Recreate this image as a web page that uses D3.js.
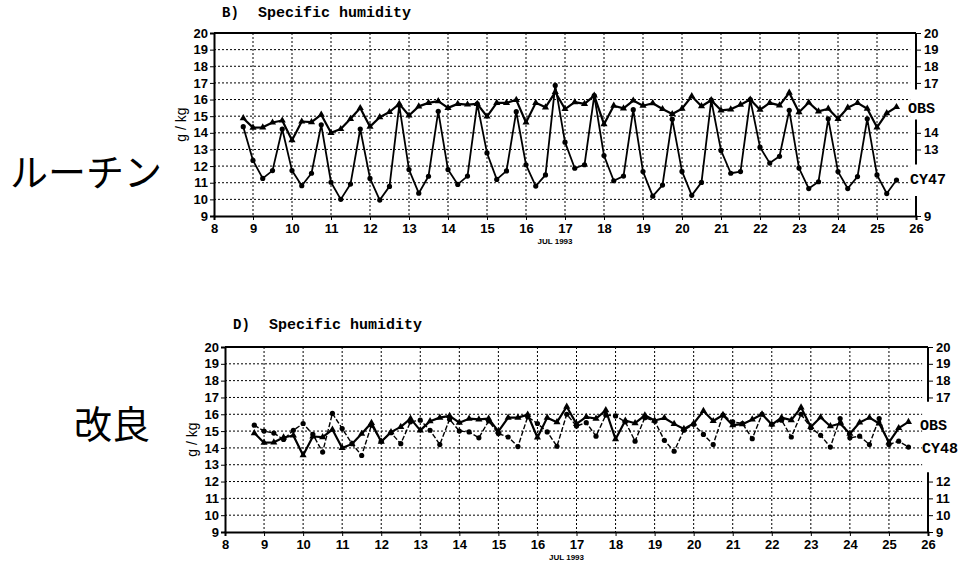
<!DOCTYPE html>
<html lang="ja">
<head>
  <meta charset="UTF-8">
  <title>Specific humidity</title>
  <style>
    body { margin: 0; background: #fff; }
    svg { display: block; }
    .tick text { font-family: "Liberation Sans", Arial, sans-serif; font-weight: bold; font-size: 13px; fill: #000; }
    .mono { font-family: "Liberation Mono", "DejaVu Sans Mono", monospace; font-weight: bold; }
    .jp { font-family: "Noto Sans CJK JP", sans-serif; font-size: 38px; }
    .grid { stroke: #000; stroke-width: 1; stroke-dasharray: 2,2; }
  </style>
</head>
<body>
<div id="chart"></div>
<script src="https://d3js.org/d3.v7.min.js"></script>
<script>
  // 6-hourly times, JUL 1993 (day of month)
  var times = [8.75, 9, 9.25, 9.5, 9.75, 10, 10.25, 10.5, 10.75, 11, 11.25, 11.5, 11.75,
    12, 12.25, 12.5, 12.75, 13, 13.25, 13.5, 13.75, 14, 14.25, 14.5, 14.75,
    15, 15.25, 15.5, 15.75, 16, 16.25, 16.5, 16.75, 17, 17.25, 17.5, 17.75,
    18, 18.25, 18.5, 18.75, 19, 19.25, 19.5, 19.75, 20, 20.25, 20.5, 20.75,
    21, 21.25, 21.5, 21.75, 22, 22.25, 22.5, 22.75, 23, 23.25, 23.5, 23.75,
    24, 24.25, 24.5, 24.75, 25, 25.25, 25.5];

  // observed specific humidity (g/kg)
  var obs = [14.88, 14.31, 14.33, 14.62, 14.74, 13.56, 14.68, 14.64, 15.09, 14.0, 14.23, 14.84, 15.49,
    14.37, 14.94, 15.25, 15.74, 15.04, 15.59, 15.8, 15.9, 15.5, 15.74, 15.7, 15.74,
    14.98, 15.8, 15.8, 15.98, 14.62, 15.8, 15.53, 16.45, 15.43, 15.84, 15.74, 16.24,
    14.52, 15.63, 15.47, 15.94, 15.63, 15.78, 15.43, 15.13, 15.45, 16.2, 15.6, 15.96,
    15.35, 15.41, 15.69, 16.0, 15.39, 15.8, 15.65, 16.41, 15.24, 15.82, 15.29, 15.45,
    14.84, 15.51, 15.8, 15.45, 14.33, 15.18, 15.55];

  // routine model (CY47)
  var cy47 = [14.37, 12.34, 11.26, 11.73, 14.23, 11.73, 10.82, 11.57, 14.48, 11.03, 10.0, 10.92, 14.23,
    11.26, 9.96, 10.78, 15.65, 11.79, 10.37, 11.39, 15.29, 11.79, 10.9, 11.4, 15.74,
    12.79, 11.2, 11.71, 15.27, 12.08, 10.8, 11.47, 16.85, 13.44, 11.87, 12.08, 16.24,
    12.63, 11.12, 11.4, 15.39, 11.67, 10.19, 10.86, 14.82, 11.68, 10.24, 11.02, 15.96,
    12.94, 11.57, 11.67, 16.0, 13.14, 12.18, 12.59, 15.35, 11.88, 10.65, 11.06, 14.84,
    11.67, 10.65, 11.37, 14.84, 11.47, 10.35, 11.16];

  // improved model (CY48)
  var cy48 = [15.35, 15.0, 14.88, 14.5, 15.05, 15.45, 14.8, 13.75, 16.05, 15.15, 14.25, 13.55, 15.35,
    14.4, 14.9, 14.25, 15.55, 15.65, 15.05, 14.2, 15.7, 15.0, 14.95, 14.6, 15.6,
    14.85, 14.65, 14.08, 15.85, 15.45, 14.95, 14.1, 16.0, 15.3, 15.5, 14.7, 15.95,
    15.9, 15.55, 14.4, 15.8, 15.6, 14.45, 13.8, 15.05, 15.4, 14.8, 14.2, 15.95,
    15.55, 15.45, 14.55, 16.0, 15.4, 15.65, 14.65, 16.0, 15.2, 14.75, 14.05, 15.75,
    14.6, 14.7, 14.2, 15.75, 14.2, 14.4, 14.05];

  var xTicks = [8, 9, 10, 11, 12, 13, 14, 15, 16, 17, 18, 19, 20, 21, 22, 23, 24, 25, 26];
  var yTicks = [9, 10, 11, 12, 13, 14, 15, 16, 17, 18, 19, 20];

  var w = 958, h = 564;

  var svg = d3.select("#chart").append("svg")
    .attr("width", w).attr("height", h);

  var panels = [
    {
      letter: "B)", jp: "ルーチン", model: cy47, modelName: "CY47", dashed: false,
      x0: 214, x1: 916, yTop: 33, yBot: 216,
      titleY: 17, jpY: 186,
      rightTicks: [20, 19, 18, 17, 14, 13, 9],
      rightSegs: [[20, 16.6], [14.8, 12.1], [10.2, 9]],
      obsLab: 15.5, modelLab: 11.2
    },
    {
      letter: "D)", jp: "改良", model: cy48, modelName: "CY48", dashed: true,
      x0: 225, x1: 928, yTop: 347, yBot: 532,
      titleY: 329, jpY: 438,
      rightTicks: [20, 19, 18, 17, 12, 11, 10, 9],
      rightSegs: [[20, 16.75], [12.55, 9]],
      obsLab: 15.35, modelLab: 14.0
    }
  ];

  panels.forEach(function(p) {
    var x = d3.scaleLinear().domain([8, 26]).range([p.x0, p.x1]);
    var y = d3.scaleLinear().domain([9, 20]).range([p.yBot, p.yTop]);
    var g = svg.append("g");

    // title
    g.append("text").attr("class", "mono")
      .attr("x", p.x0 + 8).attr("y", p.titleY)
      .style("font-size", "14px").text(p.letter);
    g.append("text").attr("class", "mono")
      .attr("x", p.x0 + 44).attr("y", p.titleY)
      .style("font-size", "15px").text("Specific humidity");

    // japanese side label
    g.append("text").attr("class", "jp")
      .attr("x", p.letter === "B)" ? 10 : 74).attr("y", p.jpY)
      .text(p.jp);

    // grid
    g.append("g").selectAll("line").data(yTicks.slice(1, -1)).enter().append("line")
      .attr("class", "grid")
      .attr("x1", p.x0).attr("x2", x(25.85))
      .attr("y1", d => y(d)).attr("y2", d => y(d));
    g.append("g").selectAll("line").data(xTicks.slice(1, -1)).enter().append("line")
      .attr("class", "grid")
      .attr("x1", d => x(d)).attr("x2", d => x(d))
      .attr("y1", y(20)).attr("y2", y(9));

    // top frame line
    g.append("line").attr("x1", p.x0).attr("x2", p.x1)
      .attr("y1", y(20)).attr("y2", y(20))
      .attr("stroke", "#000").attr("stroke-width", 2);

    // axes
    g.append("g").attr("transform", `translate(0,${p.yBot})`)
      .call(d3.axisBottom(x).tickValues(xTicks).tickSize(4).tickPadding(4).tickFormat(d3.format("d")))
      .call(a => a.select(".domain").attr("stroke-width", 2));
    g.append("g").attr("transform", `translate(${p.x0},0)`)
      .call(d3.axisLeft(y).tickValues(yTicks).tickSize(4).tickPadding(2).tickFormat(d3.format("d")))
      .call(a => a.select(".domain").attr("stroke-width", 2));

    // broken right axis
    var ra = g.append("g").attr("transform", `translate(${p.x1},0)`)
      .call(d3.axisRight(y).tickValues(p.rightTicks).tickSize(5).tickPadding(3).tickFormat(d3.format("d")));
    ra.select(".domain").remove();
    ra.selectAll("line.seg").data(p.rightSegs).enter().append("line")
      .attr("class", "seg")
      .attr("x1", 0).attr("x2", 0)
      .attr("y1", d => y(d[0])).attr("y2", d => y(d[1]))
      .attr("stroke", "#000").attr("stroke-width", 2);

    // axis labels
    g.append("text")
      .attr("transform", `translate(${p.x0 - 28},${(p.yTop + p.yBot) / 2}) rotate(-90)`)
      .attr("text-anchor", "middle")
      .style("font-family", "Liberation Sans, sans-serif").style("font-size", "14px")
      .text("g / kg");
    g.append("text")
      .attr("x", x(17) - 10).attr("y", p.yBot + 28)
      .attr("text-anchor", "middle")
      .style("font-family", "Liberation Sans, sans-serif").style("font-size", "8px")
      .style("font-weight", "bold")
      .text("JUL 1993");

    var obsData = times.map((t, i) => ({t: t, v: obs[i]}));
    var modData = times.map((t, i) => ({t: t, v: p.model[i]}));
    var line = d3.line().x(d => x(d.t)).y(d => y(d.v));

    // model line
    g.append("path").datum(modData)
      .attr("d", line).attr("fill", "none").attr("stroke", "#000")
      .attr("stroke-width", p.dashed ? 1.4 : 1.8)
      .attr("stroke-dasharray", p.dashed ? "5,2" : null)
      .attr("stroke-linejoin", "round");
    g.append("g").selectAll("circle").data(modData).enter().append("circle")
      .attr("cx", d => x(d.t)).attr("cy", d => y(d.v)).attr("r", 2.6).attr("fill", "#000");

    // obs line
    g.append("path").datum(obsData)
      .attr("d", line).attr("fill", "none").attr("stroke", "#000")
      .attr("stroke-width", 2.2).attr("stroke-linejoin", "round");
    g.append("g").selectAll("path").data(obsData).enter().append("path")
      .attr("transform", d => `translate(${x(d.t)},${y(d.v)})`)
      .attr("d", d3.symbol(d3.symbolTriangle).size(22)).attr("fill", "#000");

    // series labels
    g.append("text").attr("class", "mono")
      .attr("x", p.x1 - 8).attr("y", y(p.obsLab) + 5)
      .style("font-size", "15px").text("OBS");
    g.append("text").attr("class", "mono")
      .attr("x", p.x1 - 6).attr("y", y(p.modelLab) + 5)
      .style("font-size", "15px").text(p.modelName);
  });
</script>
</body>
</html>
